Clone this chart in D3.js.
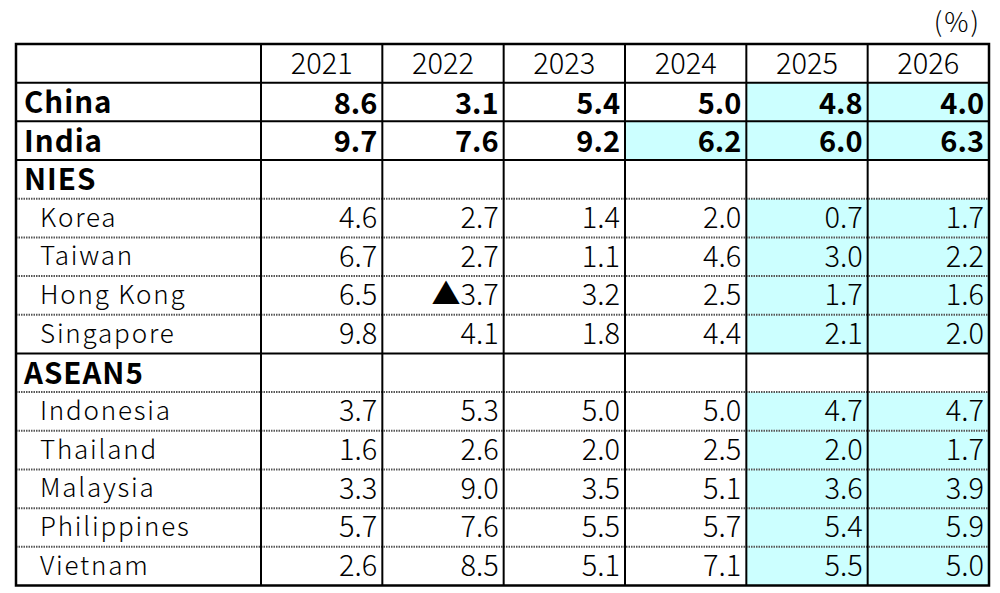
<!DOCTYPE html>
<html>
<head>
<meta charset="utf-8">
<script src="https://cdn.jsdelivr.net/npm/d3@7/dist/d3.min.js"></script>
<style>
html,body{margin:0;padding:0;background:#fff;}
svg{display:block;}
text{font-family:"Noto Sans CJK JP","Noto Sans",sans-serif;fill:#000;}
</style>
</head>
<body>
<svg id="chart" width="1000" height="593"></svg>
<script>
const years = ["2021","2022","2023","2024","2025","2026"];
const rowNames = ["China","India","NIES","Korea","Taiwan","Hong Kong","Singapore","ASEAN5","Indonesia","Thailand","Malaysia","Philippines","Vietnam"];
const rowKinds = ["main","main","group","sub","sub","sub","sub","group","sub","sub","sub","sub","sub"];
const china = [8.6,3.1,5.4,5.0,4.8,4.0];
const india = [9.7,7.6,9.2,6.2,6.0,6.3];
const korea = [4.6,2.7,1.4,2.0,0.7,1.7];
const taiwan = [6.7,2.7,1.1,4.6,3.0,2.2];
const hongKong = [6.5,-3.7,3.2,2.5,1.7,1.6];
const singapore = [9.8,4.1,1.8,4.4,2.1,2.0];
const indonesia = [3.7,5.3,5.0,5.0,4.7,4.7];
const thailand = [1.6,2.6,2.0,2.5,2.0,1.7];
const malaysia = [3.3,9.0,3.5,5.1,3.6,3.9];
const philippines = [5.7,7.6,5.5,5.7,5.4,5.9];
const vietnam = [2.6,8.5,5.1,7.1,5.5,5.0];
const rowValues = [china,india,null,korea,taiwan,hongKong,singapore,null,indonesia,thailand,malaysia,philippines,vietnam];
// first forecast year (shaded) per row
const forecastFrom = ["2025","2024",null,"2025","2025","2025","2025",null,"2025","2025","2025","2025","2025"];
const unitLabel = "(%)";

(function(){
const svg = d3.select("#chart");
const left = 16, right = 989, tableTop = 44, tableBottom = 585.5, labelColRight = 261;

const allRows = ["__header"].concat(rowNames);
const y = d3.scaleBand().domain(allRows).range([tableTop, tableBottom]);
const x = d3.scaleBand().domain(years).range([labelColRight, right]);

const fmt = v => (v < 0 ? "\u25B2" + d3.format(".1f")(-v) : d3.format(".1f")(v));

// shading
rowNames.forEach((name, i) => {
  const vals = rowValues[i];
  if (!vals || !forecastFrom[i]) return;
  const startIdx = years.indexOf(forecastFrom[i]);
  svg.selectAll(null).data(years.slice(startIdx)).enter().append("rect")
    .attr("x", d => x(d)).attr("y", y(name))
    .attr("width", x.bandwidth()).attr("height", y.bandwidth())
    .attr("fill", "#ccffff");
});

// header years
svg.selectAll(null).data(years).enter().append("text")
  .attr("x", d => x(d) + x.bandwidth() / 2)
  .attr("y", y("__header") + y.bandwidth() / 2 + 10.2)
  .attr("text-anchor", "middle")
  .attr("font-size", 29).attr("font-weight", 300)
  .text(d => d);

// unit
svg.append("text").attr("x", 981).attr("y", 32).attr("text-anchor", "end")
  .attr("font-size", 27).attr("font-weight", 300).attr("letter-spacing", 2).text(unitLabel);

// row labels and values
rowNames.forEach((name, i) => {
  const kind = rowKinds[i];
  const bold = kind !== "sub";
  const cy = y(name) + y.bandwidth() / 2;
  svg.append("text")
    .attr("x", kind === "sub" ? 40 : 24)
    .attr("y", cy + (bold ? 11 : 8.5))
    .attr("font-size", bold ? 29.5 : 26)
    .attr("letter-spacing", bold ? 1 : 1.8)
    .attr("font-weight", bold ? 700 : 300)
    .text(name);
  const vals = rowValues[i];
  if (!vals) return;
  svg.selectAll(null).data(years.map((yr, j) => ({yr, v: vals[j]}))).enter().append("text")
    .attr("x", d => x(d.yr) + x.bandwidth() - 5)
    .attr("y", cy + (bold ? 11.5 : 10))
    .attr("text-anchor", "end")
    .attr("font-size", 29)
    .attr("font-weight", bold ? 700 : 300)
    .text(d => fmt(d.v));
});

// horizontal lines
const solidAfter = ["__header","China","India","Singapore"];
const dottedAfter = ["NIES","Korea","Taiwan","Hong Kong","ASEAN5","Indonesia","Thailand","Malaysia","Philippines"];
svg.selectAll(null).data(dottedAfter).enter().append("line")
  .attr("x1", left).attr("x2", right)
  .attr("y1", d => y(d) + y.bandwidth()).attr("y2", d => y(d) + y.bandwidth())
  .attr("stroke", "#555").attr("stroke-width", 2).attr("stroke-dasharray", "1.5,1");
svg.selectAll(null).data(solidAfter).enter().append("line")
  .attr("x1", left).attr("x2", right)
  .attr("y1", d => y(d) + y.bandwidth()).attr("y2", d => y(d) + y.bandwidth())
  .attr("stroke", "#000").attr("stroke-width", 2);

// vertical lines
svg.selectAll(null).data(years).enter().append("line")
  .attr("x1", d => x(d)).attr("x2", d => x(d))
  .attr("y1", tableTop).attr("y2", tableBottom)
  .attr("stroke", "#000").attr("stroke-width", 2);

// outer border
svg.append("rect").attr("x", left).attr("y", tableTop)
  .attr("width", right - left).attr("height", tableBottom - tableTop)
  .attr("fill", "none").attr("stroke", "#000").attr("stroke-width", 2.5);
})();
</script>
</body>
</html>
